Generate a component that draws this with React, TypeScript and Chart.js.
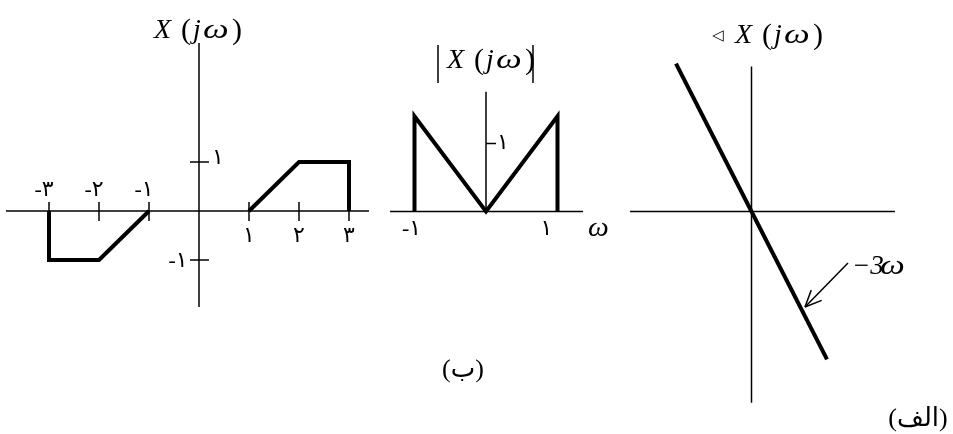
import React, { useEffect, useRef } from 'react';
import { Chart, registerables } from 'chart.js';

Chart.register(...registerables);

const SERIF = '"Liberation Serif", "Times New Roman", serif';
const ARABIC = '"Liberation Serif", "DejaVu Sans", serif';

// ---------- Panel 1 : X(jω) ----------
const negOmega = [-3, -3, -2, -1];
const negValue = [0, -1, -1, 0];
const posOmega = [1, 2, 3, 3];
const posValue = [0, 1, 1, 0];
const p1XTicks = [-3, -2, -1, 1, 2, 3];
const p1XTickLabels = ['-۳', '-۲', '-۱', '۱', '۲', '۳'];
const p1YTicks = [1, -1];
const p1YTickLabels = ['۱', '-۱'];
const p1AxisX = [-3.86, 3.4];
const p1AxisY = [-1.96, 3.43];

// ---------- Panel 2 : |X(jω)| ----------
const magOmega = [-1, -1, 0, 1, 1];
const magValue = [0, 1.4, 0, 1.4, 0];
const magYTicks = [1];
const magYTickLabels = ['۱'];
const magXLabelAt = [-1, 1];
const magXLabels = ['-۱', '۱'];
const p2AxisX = [-1.343, 1.357];
const p2AxisY = [0, 1.76];

// ---------- Panel 3 : ∢X(jω) ----------
const phaseOmega = [-1, 0, 1];
const phaseValue = [3, 0, -3];
const p3AxisX = [-1.61, 1.9];
const p3AxisY = [-3.88, 2.94];

const pts = (xs: number[], ys: number[]) => xs.map((x, i) => ({ x, y: ys[i] }));

const lineDs = (data: any[], width: number) => ({
  data,
  showLine: true,
  borderColor: '#000',
  backgroundColor: '#000',
  borderWidth: width,
  pointRadius: 0,
  fill: false,
  tension: 0,
  borderJoinStyle: 'miter',
  borderCapStyle: 'butt',
});

function axisDatasets(ax: number[], ay: number[]) {
  return [
    lineDs([{ x: ax[0], y: 0 }, { x: ax[1], y: 0 }], 1.5),
    lineDs([{ x: 0, y: ay[0] }, { x: 0, y: ay[1] }], 1.5),
  ];
}

function drawXjw(ctx: CanvasRenderingContext2D, left: number, baseline: number) {
  const size = 28;
  ctx.fillStyle = '#000';
  ctx.textBaseline = 'alphabetic';
  ctx.textAlign = 'left';
  ctx.font = `italic ${size}px ${SERIF}`;
  ctx.fillText('X', left - 1, baseline);
  ctx.font = `30px ${SERIF}`;
  ctx.fillText('(', left + 26, baseline + 1);
  ctx.font = `italic ${size}px ${SERIF}`;
  ctx.fillText('j', left + 38, baseline);
  ctx.save();
  ctx.translate(left + 48, baseline);
  ctx.scale(1.3, 1);
  ctx.fillText('ω', 0, 0);
  ctx.restore();
  ctx.font = `30px ${SERIF}`;
  ctx.fillText(')', left + 77, baseline + 1);
}

function text(ctx: CanvasRenderingContext2D, s: string, x: number, y: number, font: string, align: CanvasTextAlign = 'center') {
  ctx.fillStyle = '#000';
  ctx.font = font;
  ctx.textAlign = align;
  ctx.textBaseline = 'middle';
  ctx.fillText(s, x, y);
}

function seg(ctx: CanvasRenderingContext2D, x1: number, y1: number, x2: number, y2: number) {
  ctx.beginPath();
  ctx.moveTo(x1, y1);
  ctx.lineTo(x2, y2);
  ctx.stroke();
}

function makeChart(canvas: HTMLCanvasElement, datasets: any[], xr: number[], yr: number[], plugin: any) {
  return new Chart(canvas, {
    type: 'scatter',
    data: { datasets },
    options: {
      responsive: false,
      animation: false,
      devicePixelRatio: 1,
      events: [],
      layout: { padding: 0 },
      plugins: { legend: { display: false }, tooltip: { enabled: false } },
      scales: {
        x: { type: 'linear', display: false, min: xr[0], max: xr[1] },
        y: { type: 'linear', display: false, min: yr[0], max: yr[1] },
      },
    } as any,
    plugins: [plugin],
  });
}

const H = 434;

export default function App() {
  const c1 = useRef<HTMLCanvasElement>(null);
  const c2 = useRef<HTMLCanvasElement>(null);
  const c3 = useRef<HTMLCanvasElement>(null);

  useEffect(() => {
    const off1 = 0, off2 = 380, off3 = 620;
    const dfont = `22px ${ARABIC}`;

    const plugin1 = {
      id: 'p1',
      afterDatasetsDraw(chart: any) {
        const { ctx } = chart;
        const x = chart.scales.x, y = chart.scales.y;
        const ox = x.getPixelForValue(0), oy = y.getPixelForValue(0);
        ctx.save();
        ctx.strokeStyle = '#000';
        ctx.lineWidth = 1.5;
        p1XTicks.forEach((v, i) => {
          const px = x.getPixelForValue(v);
          seg(ctx, px, oy - 9, px, oy + 10);
          if (v < 0) text(ctx, p1XTickLabels[i], px - 5, oy - 21, dfont);
          else text(ctx, p1XTickLabels[i], px, oy + 25, dfont);
        });
        p1YTicks.forEach((v, i) => {
          const py = y.getPixelForValue(v);
          seg(ctx, ox - 9, py, ox + 10, py);
          if (v > 0) text(ctx, p1YTickLabels[i], ox + 19, py - 4, dfont);
          else text(ctx, p1YTickLabels[i], ox - 21, py + 1, dfont);
        });
        drawXjw(ctx, 155 - off1, 38);
        ctx.restore();
      },
    };

    const plugin2 = {
      id: 'p2',
      afterDatasetsDraw(chart: any) {
        const { ctx } = chart;
        const x = chart.scales.x, y = chart.scales.y;
        const ox = x.getPixelForValue(0), oy = y.getPixelForValue(0);
        ctx.save();
        ctx.strokeStyle = '#000';
        ctx.lineWidth = 1.5;
        magYTicks.forEach((v, i) => {
          const py = y.getPixelForValue(v);
          seg(ctx, ox, py, ox + 10, py);
          text(ctx, magYTickLabels[i], ox + 17, py, dfont);
        });
        magXLabelAt.forEach((v, i) => {
          const px = x.getPixelForValue(v);
          text(ctx, magXLabels[i], v < 0 ? px - 3 : px - 11, oy + 18, dfont);
        });
        // ω axis label
        ctx.save();
        ctx.fillStyle = '#000';
        ctx.font = `italic 28px ${SERIF}`;
        ctx.textAlign = 'left';
        ctx.textBaseline = 'alphabetic';
        ctx.translate(588 - off2, 236);
        ctx.scale(1.05, 1);
        ctx.fillText('ω', 0, 0);
        ctx.restore();
        // title |X(jω)|
        seg(ctx, 438 - off2, 45, 438 - off2, 83);
        seg(ctx, 533 - off2, 45, 533 - off2, 83);
        drawXjw(ctx, 448 - off2, 68);
        text(ctx, '(ب)', 463 - off2, 370, `26px ${ARABIC}`);
        ctx.restore();
      },
    };

    const plugin3 = {
      id: 'p3',
      afterDatasetsDraw(chart: any) {
        const { ctx } = chart;
        ctx.save();
        ctx.strokeStyle = '#000';
        ctx.fillStyle = '#000';
        ctx.lineWidth = 1.5;
        // annotation arrow pointing to the line
        const fx = 848 - off3, fy = 263, tx = 805 - off3, ty = 307;
        seg(ctx, fx, fy, tx, ty);
        const ang = Math.atan2(ty - fy, tx - fx);
        const L = 18, spread = 0.42;
        seg(ctx, tx, ty, tx - L * Math.cos(ang - spread), ty - L * Math.sin(ang - spread));
        seg(ctx, tx, ty, tx - L * Math.cos(ang + spread), ty - L * Math.sin(ang + spread));
        ctx.font = `italic 27px ${SERIF}`;
        ctx.textAlign = 'left';
        ctx.textBaseline = 'alphabetic';
        ctx.fillText('−3', 852 - off3, 274);
        ctx.save();
        ctx.translate(880 - off3, 274);
        ctx.scale(1.3, 1);
        ctx.fillText('ω', 0, 0);
        ctx.restore();
        // title ∢X(jω)
        text(ctx, '◁', 712 - off3, 36, `15px "DejaVu Sans", sans-serif`, 'left');
        drawXjw(ctx, 736 - off3, 43);
        text(ctx, '(الف)', 918 - off3, 419, `26px ${ARABIC}`);
        ctx.restore();
      },
    };

    const ch1 = makeChart(
      c1.current!,
      [lineDs(pts(negOmega, negValue), 4), lineDs(pts(posOmega, posValue), 4), ...axisDatasets(p1AxisX, p1AxisY)],
      [-3.98, 3.62],
      [-223 / 49, 211 / 49],
      plugin1,
    );
    const ch2 = makeChart(
      c2.current!,
      [lineDs(pts(magOmega, magValue), 4), ...axisDatasets(p2AxisX, p2AxisY)],
      [-106 / 71.5, 134 / 71.5],
      [-222.5 / 68, 211.5 / 68],
      plugin2,
    );
    const ch3 = makeChart(
      c3.current!,
      [lineDs(pts(phaseOmega, phaseValue), 4), ...axisDatasets(p3AxisX, p3AxisY)],
      [-131.5 / 75.5, 201.5 / 75.5],
      [-222.5 / 49.3, 211.5 / 49.3],
      plugin3,
    );
    return () => {
      ch1.destroy();
      ch2.destroy();
      ch3.destroy();
    };
  }, []);

  const cs = (left: number, width: number): React.CSSProperties => ({
    position: 'absolute',
    left,
    top: 0,
    width,
    height: H,
  });

  return (
    <div style={{ position: 'absolute', left: 0, top: 0, width: 953, height: H, background: '#fff', overflow: 'hidden' }}>
      <canvas ref={c1} width={380} height={H} style={cs(0, 380)} />
      <canvas ref={c2} width={240} height={H} style={cs(380, 240)} />
      <canvas ref={c3} width={333} height={H} style={cs(620, 333)} />
    </div>
  );
}
